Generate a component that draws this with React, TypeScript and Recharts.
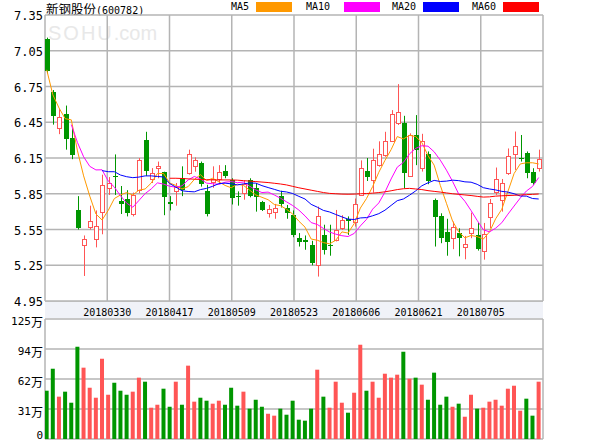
import React from "react"
import { Bar, BarChart, CartesianGrid, Cell, ComposedChart, Line, XAxis, YAxis } from "recharts"

// daily candles, 81 trading days
const OPEN = [
  7.15, 6.7, 6.4, 6.52, 6.32, 5.71, 5.42, 5.575, 5.47, 5.7,
  5.9, 6.0, 5.785, 5.81, 5.68, 5.88, 6.3, 5.975, 6.065, 6.03,
  5.78, 5.87, 5.98, 6.02, 6.086, 6.11, 5.875, 5.95, 5.97, 6.04,
  5.965, 5.83, 5.86, 5.965, 5.895, 5.78, 5.686, 5.7, 5.83, 5.733,
  5.67, 5.477, 5.46, 5.42, 5.253, 5.505, 5.42, 5.466, 5.56, 5.64,
  5.617, 5.84, 6.044, 5.965, 6.09, 6.176, 6.295, 6.446, 6.446, 6.0,
  6.343, 6.064, 6.18, 5.8, 5.664, 5.53, 5.477, 5.524, 5.4, 5.524,
  5.505, 5.367, 5.653, 5.868, 5.795, 6.02, 6.184, 6.15, 6.19, 6.036,
  6.064,
]
const HIGH = [
  7.16, 6.72, 6.56, 6.59, 6.4, 5.83, 5.5, 5.75, 5.71, 6.01,
  5.99, 6.18, 5.915, 5.88, 5.86, 6.15, 6.37, 6.065, 6.12, 6.035,
  5.83, 5.94, 6.08, 6.22, 6.155, 6.12, 5.925, 6.08, 6.09, 6.09,
  5.98, 5.87, 5.96, 5.98, 5.94, 5.79, 5.756, 5.765, 5.875, 5.756,
  5.71, 5.52, 5.5, 5.455, 5.742, 5.59, 5.59, 5.714, 5.67, 5.66,
  5.81, 6.13, 6.15, 6.228, 6.29, 6.37, 6.552, 6.77, 6.504, 6.357,
  6.51, 6.353, 6.205, 5.81, 5.686, 5.64, 5.617, 5.56, 5.496, 5.692,
  5.605, 5.605, 5.806, 6.07, 5.974, 6.23, 6.372, 6.343, 6.205, 6.064,
  6.22,
]
const LOW = [
  6.86, 6.43, 6.35, 6.22, 6.14, 5.55, 5.16, 5.55, 5.4, 5.51,
  5.84, 5.84, 5.68, 5.66, 5.66, 5.855, 6.0, 5.94, 5.98, 5.67,
  5.71, 5.75, 5.83, 6.01, 6.035, 5.91, 5.66, 5.9, 5.94, 5.98,
  5.76, 5.75, 5.8, 5.82, 5.7, 5.705, 5.65, 5.64, 5.735, 5.64,
  5.485, 5.407, 5.38, 5.25, 5.155, 5.34, 5.33, 5.45, 5.546, 5.505,
  5.575, 5.84, 5.957, 5.86, 6.077, 6.16, 6.287, 6.427, 5.896, 5.993,
  6.09, 6.036, 5.93, 5.407, 5.435, 5.33, 5.385, 5.325, 5.3, 5.477,
  5.373, 5.297, 5.56, 5.84, 5.7, 6.008, 6.05, 6.12, 5.98, 5.925,
  6.036,
]
const CLOSE = [
  6.88, 6.5, 6.49, 6.31, 6.18, 5.56, 5.47, 5.62, 5.58, 5.92,
  5.94, 5.99, 5.76, 5.69, 5.84, 6.13, 6.04, 6.02, 6.08, 5.82,
  5.76, 5.91, 5.88, 6.18, 6.13, 5.93, 5.68, 5.97, 6.03, 6.0,
  5.81, 5.82, 5.93, 5.83, 5.82, 5.71, 5.72, 5.73, 5.76, 5.69,
  5.5, 5.44, 5.44, 5.27, 5.66, 5.38, 5.42, 5.55, 5.63, 5.62,
  5.76, 6.07, 5.99, 6.13, 6.18, 6.29, 6.52, 6.54, 6.03, 6.34,
  6.22, 6.29, 5.95, 5.66, 5.48, 5.45, 5.57, 5.48, 5.43, 5.56,
  5.39, 5.51, 5.77, 5.97, 5.94, 6.17, 6.25, 6.15, 6.02, 5.94,
  6.14,
]
// volume, unit 万
const VOLUME = [
  50.3, 73.2, 44.1, 49.3, 37.8, 96.1, 74.3, 53.4, 43.0, 83.6,
  46.1, 58.6, 50.3, 46.1, 49.3, 63.9, 59.7, 32.6, 35.7, 52.4,
  33.6, 59.7, 35.7, 76.4, 38.9, 43.0, 39.9, 36.8, 39.9, 35.7,
  53.4, 34.7, 49.3, 31.6, 40.9, 33.6, 26.3, 24.3, 31.6, 25.3,
  39.9, 20.1, 19.1, 31.6, 72.2, 44.1, 32.6, 59.7, 37.8, 27.4,
  48.2, 98.2, 50.3, 59.7, 43.0, 68.0, 63.9, 67.0, 90.9, 62.8,
  63.9, 56.6, 40.9, 69.1, 35.7, 44.1, 33.6, 36.8, 23.2, 46.1,
  31.6, 32.6, 38.9, 40.9, 34.7, 52.4, 55.5, 29.5, 42.0, 24.3,
  59.7,
]
const n = null
const MA5 = [
  6.89, 6.68, 6.57, 6.48, 6.47, 6.21, 6.0, 5.83, 5.68, 5.63,
  5.71, 5.81, 5.84, 5.86, 5.84, 5.88, 5.89, 5.94, 6.02, 6.02,
  5.94, 5.92, 5.89, 5.91, 5.97, 6.01, 5.96, 5.98, 5.95, 5.92,
  5.9, 5.93, 5.92, 5.88, 5.84, 5.82, 5.8, 5.76, 5.75, 5.72,
  5.68, 5.62, 5.57, 5.47, 5.46, 5.44, 5.43, 5.46, 5.53, 5.52,
  5.6, 5.73, 5.81, 5.91, 6.03, 6.13, 6.22, 6.33, 6.31, 6.34,
  6.33, 6.28, 6.17, 6.09, 5.92, 5.77, 5.62, 5.53, 5.48, 5.5,
  5.49, 5.47, 5.53, 5.64, 5.72, 5.87, 6.02, 6.1, 6.11, 6.11,
  6.1,
]
const MA10 = [
  n, n, n, n, 6.43, 6.28, 6.16, 6.08, 6.05, 6.051,
  5.957, 5.906, 5.833, 5.771, 5.737, 5.794, 5.851, 5.891, 5.941, 5.931,
  5.913, 5.905, 5.917, 5.966, 5.995, 5.975, 5.939, 5.934, 5.929, 5.947,
  5.952, 5.943, 5.948, 5.913, 5.882, 5.86, 5.864, 5.84, 5.813, 5.782,
  5.751, 5.713, 5.664, 5.608, 5.592, 5.559, 5.529, 5.511, 5.498, 5.491,
  5.517, 5.58, 5.635, 5.721, 5.773, 5.864, 5.974, 6.073, 6.113, 6.185,
  6.231, 6.253, 6.249, 6.202, 6.132, 6.048, 5.953, 5.847, 5.787, 5.709,
  5.626, 5.548, 5.53, 5.561, 5.607, 5.679, 5.747, 5.814, 5.873, 5.911,
  5.986,
]
const MA20 = [
  n, n, n, n, n, n, n, n, n, 6.044,
  6.035, 6.035, 6.007, 5.993, 5.985, 5.99, 6.0, 6.0, 5.995, 5.991,
  5.935, 5.906, 5.875, 5.869, 5.866, 5.885, 5.895, 5.913, 5.935, 5.939,
  5.933, 5.924, 5.933, 5.94, 5.939, 5.918, 5.902, 5.887, 5.871, 5.865,
  5.852, 5.828, 5.806, 5.761, 5.737, 5.71, 5.697, 5.676, 5.656, 5.637,
  5.634, 5.647, 5.65, 5.665, 5.683, 5.712, 5.752, 5.792, 5.806, 5.838,
  5.874, 5.917, 5.942, 5.962, 5.953, 5.956, 5.964, 5.96, 5.95, 5.947,
  5.929, 5.901, 5.89, 5.882, 5.87, 5.864, 5.85, 5.831, 5.83, 5.81,
  5.806,
]
const MA60 = [
  n, n, n, n, n, n, n, n, n, n,
  n, n, n, n, n, n, n, n, n, n,
  5.98, 5.98, 5.978, 5.975, 5.972, 5.97, 5.968, 5.966, 5.966, 5.966,
  5.966, 5.964, 5.96, 5.956, 5.952, 5.948, 5.944, 5.938, 5.932, 5.924,
  5.912, 5.9, 5.89, 5.88, 5.87, 5.86, 5.853, 5.85, 5.847, 5.846,
  5.847, 5.85, 5.852, 5.855, 5.86, 5.866, 5.875, 5.885, 5.892, 5.895,
  5.89, 5.885, 5.876, 5.87, 5.864, 5.857, 5.85, 5.845, 5.84, 5.835,
  5.828, 5.822, 5.824, 5.83, 5.833, 5.835, 5.837, 5.84, 5.842, 5.845,
  5.848,
]

const DATE_LABELS = ["20180330", "20180417", "20180509", "20180523", "20180606", "20180621", "20180705"]
const PRICE_TICKS = [4.95, 5.25, 5.55, 5.85, 6.15, 6.45, 6.75, 7.05, 7.35]
const VOL_TICKS = [0, 31.25, 62.5, 93.75, 125]
const VOL_LABELS = ["0", "31万", "62万", "94万", "125万"]

const MA_SERIES = [
  { key: "ma5", name: "MA5", color: "#ff9900" },
  { key: "ma10", name: "MA10", color: "#ff00ff" },
  { key: "ma20", name: "MA20", color: "#0000ff" },
  { key: "ma60", name: "MA60", color: "#ff0000" },
]

const RED = "#ff5555"
const GREEN = "#009600"
const GRID = "#b4b4b4"
const MONO = "'DejaVu Sans Mono', 'Liberation Mono', monospace"

// x domain, slightly padded so first/last candles sit inside the frame
const D0 = -0.28
const D1 = 80.7
const GRID_X = Array.from({ length: 9 }, (_, k) => D0 + (k * (D1 - D0)) / 8)

const rows = OPEN.map((open, i) => ({
  i,
  open,
  high: HIGH[i],
  low: LOW[i],
  close: CLOSE[i],
  range: [LOW[i], HIGH[i]],
  volume: VOLUME[i],
  ma5: MA5[i],
  ma10: MA10[i],
  ma20: MA20[i],
  ma60: MA60[i],
}))

const Candle = (props: any) => {
  const { x, y, width, height, payload } = props
  const { open, close, high, low } = payload
  const k = high > low ? height / (high - low) : 0
  const yO = y + (high - open) * k
  const yC = y + (high - close) * k
  const top = Math.min(yO, yC)
  const bot = Math.max(yO, yC)
  const cx = Math.round(x + width / 2)
  const up = close > open
  if (up) {
    const t = Math.round(top) + 0.5
    const b = Math.max(Math.round(bot) + 0.5, t + 1)
    return (
      <g>
        <line x1={cx + 0.5} x2={cx + 0.5} y1={y} y2={t} stroke={RED} />
        <line x1={cx + 0.5} x2={cx + 0.5} y1={b} y2={y + height} stroke={RED} />
        <rect x={cx - 1.5} y={t} width={4} height={b - t} fill="#fff" stroke={RED} />
      </g>
    )
  }
  return (
    <g>
      <line x1={cx + 0.5} x2={cx + 0.5} y1={y} y2={y + height} stroke={GREEN} />
      <rect x={cx - 2} y={Math.round(top)} width={5} height={Math.max(Math.round(bot - top), 1)} fill={GREEN} />
    </g>
  )
}

const PriceTick = ({ x, y, payload }: any) => (
  <text x={x} y={y + 1} textAnchor="end" dominantBaseline="central" fontSize={12} fontFamily={MONO} fill="#000">
    {Number(payload.value).toFixed(2)}
  </text>
)

const DateTick = ({ x, y, index }: any) => {
  const label = index >= 1 && index <= DATE_LABELS.length ? DATE_LABELS[index - 1] : ""
  return (
    <text x={x} y={y + 9} textAnchor="middle" dominantBaseline="central" fontSize={10} fontFamily={MONO} fill="#000">
      {label}
    </text>
  )
}

const VolTick = ({ x, y, payload, index }: any) => {
  const dy = payload.value === 0 ? -4 : 2
  const label = VOL_LABELS[index] ?? ""
  const digits = label.replace("万", "")
  return (
    <text x={x} y={y + dy} textAnchor="end" dominantBaseline="central" fill="#000">
      <tspan fontSize={11} fontFamily={MONO}>{digits}</tspan>
      {label.endsWith("万") && <tspan fontSize={12} fontFamily="'Noto Sans CJK SC'">万</tspan>}
    </text>
  )
}

const LEGEND_POS = [
  { text: 231, box: 256 },
  { text: 306, box: 344 },
  { text: 392, box: 423 },
  { text: 472, box: 503 },
]

export default function App() {
  return (
    <div style={{ position: "absolute", left: 0, top: 0, width: 600, height: 440, background: "#fff", overflow: "hidden" }}>
      <style>{"svg.recharts-surface{overflow:visible}"}</style>
      <div style={{ position: "absolute", left: 46, top: 0, lineHeight: "18px", fontSize: 12.5, fontFamily: "'Noto Sans CJK SC'", color: "#000" }}>
        新钢股份<span style={{ fontFamily: MONO, fontSize: 10 }}>(600782)</span>
      </div>
      {MA_SERIES.map((s, i) => (
        <React.Fragment key={s.key}>
          <div style={{ position: "absolute", left: LEGEND_POS[i].text, top: 0, lineHeight: "14px", fontSize: 10, fontFamily: MONO, color: "#000" }}>
            {s.name}
          </div>
          <div style={{ position: "absolute", left: LEGEND_POS[i].box, top: 2, width: 36, height: 10, background: s.color }} />
        </React.Fragment>
      ))}
      <div style={{ position: "absolute", left: 48, top: 21, fontSize: 20, fontFamily: "'Liberation Sans'", color: "#e8e8e8", lineHeight: "24px" }}>
        <span style={{ letterSpacing: 2 }}>SOHU</span>.com
      </div>
      <div style={{ position: "absolute", left: 45, top: 301, width: 498, height: 17, background: "#f0f2f8", borderTop: "1px solid #d0d0d0", boxSizing: "border-box" }} />

      <div style={{ position: "absolute", left: 0, top: 0 }}>
        <ComposedChart width={600} height={318} data={rows} margin={{ top: 15, right: 57, bottom: 0, left: 0 }}>
          <CartesianGrid stroke={GRID} strokeWidth={1.5} />
          <XAxis
            dataKey="i"
            type="number"
            domain={[D0, D1]}
            allowDataOverflow
            ticks={GRID_X}
            interval={0}
            height={17}
            axisLine={false}
            tickLine={false}
            tickSize={0}
            tick={<DateTick />}
          />
          <YAxis
            type="number"
            domain={[4.95, 7.35]}
            allowDataOverflow
            ticks={PRICE_TICKS}
            interval={0}
            width={45}
            axisLine={false}
            tickLine={false}
            tickSize={0}
            tickMargin={2}
            tick={<PriceTick />}
          />
          <Bar dataKey="range" barSize={5} shape={<Candle />} isAnimationActive={false} />
          {MA_SERIES.map((s) => (
            <Line
              key={s.key}
              dataKey={s.key}
              stroke={s.color}
              strokeWidth={1}
              dot={false}
              activeDot={false}
              type="linear"
              isAnimationActive={false}
            />
          ))}
        </ComposedChart>
      </div>

      <div style={{ position: "absolute", left: 0, top: 318 }}>
        <BarChart width={600} height={122} data={rows} margin={{ top: 1, right: 57, bottom: 1, left: 0 }}>
          <CartesianGrid stroke={GRID} strokeWidth={1.5} />
          <XAxis
            dataKey="i"
            type="number"
            domain={[D0, D1]}
            allowDataOverflow
            ticks={GRID_X}
            interval={0}
            height={0}
            axisLine={false}
            tickLine={false}
            tick={false}
          />
          <YAxis
            type="number"
            domain={[0, 125]}
            ticks={VOL_TICKS}
            interval={0}
            width={45}
            axisLine={false}
            tickLine={false}
            tickSize={0}
            tickMargin={2}
            tick={<VolTick />}
          />
          <Bar dataKey="volume" barSize={4} isAnimationActive={false}>
            {rows.map((r) => (
              <Cell key={r.i} fill={r.close >= r.open ? RED : GREEN} />
            ))}
          </Bar>
        </BarChart>
      </div>
    </div>
  )
}
